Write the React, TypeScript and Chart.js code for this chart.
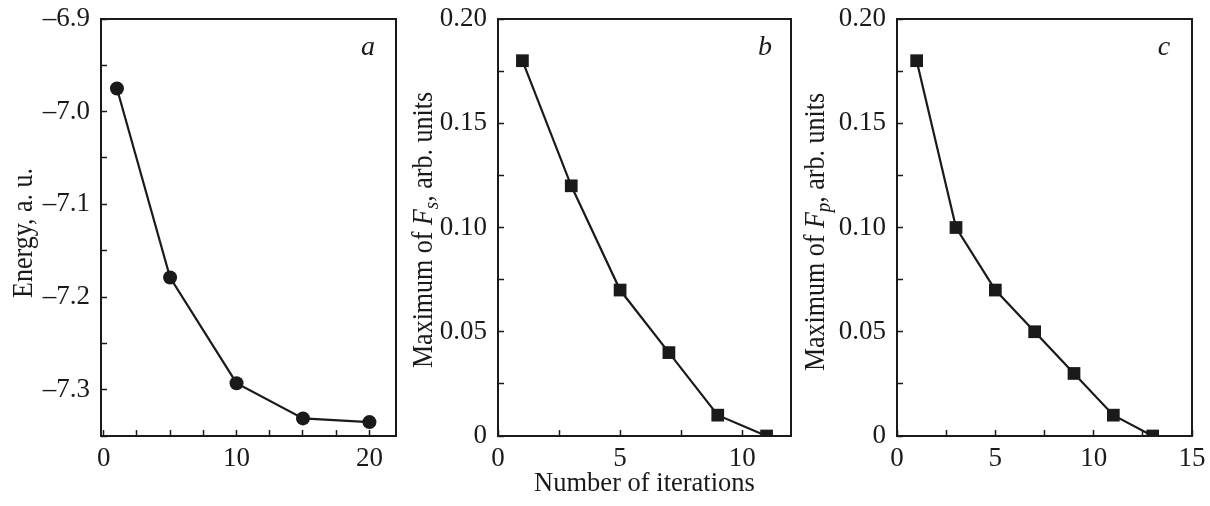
import React, { useEffect, useRef } from "react";
import { Chart, registerables } from "chart.js";

Chart.register(...registerables);

// ---------- data ----------
const iterA = [1, 5, 10, 15, 20];
const energyA = [-6.975, -7.179, -7.293, -7.331, -7.335];

const iterB = [1, 3, 5, 7, 9, 11];
const fsMaxB = [0.18, 0.12, 0.07, 0.04, 0.01, 0.0];

const iterC = [1, 3, 5, 7, 9, 11, 13];
const fpMaxC = [0.18, 0.1, 0.07, 0.05, 0.03, 0.01, 0.0];

const xTickLabelsA = [0, 10, 20];
const xTickLabelsB = [0, 5, 10];
const xTickLabelsC = [0, 5, 10, 15];
const yTickLabelsA = [-6.9, -7.0, -7.1, -7.2, -7.3];
const yTickLabelsF = [0, 0.05, 0.1, 0.15, 0.2];

const FONT = "'Liberation Serif', 'Times New Roman', serif";
const INK = "#1a1a1a";

type Part = { text: string; italic?: boolean; sub?: boolean };

const decorPlugin = {
  id: "panelDecor",
  afterDraw(chart: any, _args: any, opts: any) {
    const { ctx, chartArea } = chart;
    ctx.save();
    // box
    ctx.strokeStyle = INK;
    ctx.lineWidth = 2;
    ctx.strokeRect(chartArea.left, chartArea.top, chartArea.right - chartArea.left, chartArea.bottom - chartArea.top);
    // panel letter
    ctx.fillStyle = INK;
    ctx.font = `italic 28px ${FONT}`;
    ctx.textAlign = "center";
    ctx.textBaseline = "alphabetic";
    ctx.fillText(opts.letter, opts.letterX, opts.letterY);
    // y title
    const parts: Part[] = opts.titleParts;
    const fontFor = (p: Part) => `${p.italic ? "italic " : ""}${p.sub ? 19 : 26}px ${FONT}`;
    let total = 0;
    for (const p of parts) {
      ctx.font = fontFor(p);
      total += ctx.measureText(p.text).width;
    }
    ctx.translate(opts.titleX, opts.titleY);
    ctx.rotate(-Math.PI / 2);
    ctx.scale(1, 1.15);
    ctx.textAlign = "left";
    let x = -total / 2;
    for (const p of parts) {
      ctx.font = fontFor(p);
      ctx.fillText(p.text, x, p.sub ? 5 : 0);
      x += ctx.measureText(p.text).width;
    }
    ctx.restore();
  },
};

function near(v: number, list: number[]) {
  return list.some((t) => Math.abs(v - t) < 1e-6);
}

function makeConfig(p: {
  xs: number[];
  ys: number[];
  pointStyle: string;
  radius: number;
  xMin: number;
  xMax: number;
  xLabels: number[];
  yMin: number;
  yMax: number;
  yStep: number;
  yLabels: number[];
  yFmt: (v: number) => string;
  yWidth: number;
  padRight: number;
  xTitle?: string;
  decor: any;
}) {
  const tickFont = { family: FONT, size: 27 };
  return {
    type: "line",
    data: {
      datasets: [
        {
          data: p.xs.map((x, i) => ({ x, y: p.ys[i] })),
          borderColor: INK,
          borderWidth: 2.2,
          backgroundColor: INK,
          pointBackgroundColor: INK,
          pointBorderColor: INK,
          pointBorderWidth: 0,
          pointStyle: p.pointStyle,
          pointRadius: p.radius,
          tension: 0,
          fill: false,
        },
      ],
    },
    options: {
      responsive: false,
      animation: false,
      devicePixelRatio: 1,
      layout: { padding: { top: 19, right: p.padRight, bottom: 0, left: 0 } },
      plugins: {
        legend: { display: false },
        tooltip: { enabled: false },
        panelDecor: p.decor,
      },
      scales: {
        x: {
          type: "linear",
          min: p.xMin,
          max: p.xMax,
          border: { display: false },
          grid: { drawOnChartArea: false, drawTicks: true, tickLength: -6, tickWidth: 1.5, tickColor: INK },
          ticks: {
            stepSize: 2.5,
            autoSkip: false,
            includeBounds: false,
            maxRotation: 0,
            padding: 13,
            color: INK,
            font: tickFont,
            callback: (v: number) => (near(v, p.xLabels) ? String(Math.round(v)) : ""),
          },
          title: p.xTitle
            ? { display: true, text: p.xTitle, color: INK, font: { family: FONT, size: 26.5 }, padding: { top: 0, bottom: 6 } }
            : { display: false },
          afterFit: (s: any) => {
            s.height = 70;
            s.paddingLeft = 0;
            s.paddingRight = 0;
          },
        },
        y: {
          type: "linear",
          min: p.yMin,
          max: p.yMax,
          border: { display: false },
          grid: { drawOnChartArea: false, drawTicks: true, tickLength: -6, tickWidth: 1.5, tickColor: INK },
          ticks: {
            stepSize: p.yStep,
            autoSkip: false,
            includeBounds: false,
            padding: 17,
            color: INK,
            font: tickFont,
            callback: (v: number) => (near(v, p.yLabels) ? p.yFmt(v) : ""),
          },
          afterFit: (s: any) => {
            s.width = p.yWidth;
            s.paddingTop = 0;
            s.paddingBottom = 0;
          },
        },
      },
    },
    plugins: [decorPlugin],
  } as any;
}

function Panel(props: { left: number; width: number; config: any }) {
  const ref = useRef<HTMLCanvasElement | null>(null);
  useEffect(() => {
    if (!ref.current) return;
    const chart = new Chart(ref.current, props.config);
    return () => chart.destroy();
  }, []);
  return (
    <canvas
      ref={ref}
      width={props.width}
      height={506}
      style={{ position: "absolute", left: props.left, top: 0, width: props.width, height: 506, display: "block" }}
    />
  );
}

const fmtA = (v: number) => "\u2013" + Math.abs(v).toFixed(1);
const fmtF = (v: number) => (Math.abs(v) < 1e-9 ? "0" : v.toFixed(2));

export default function App() {
  const cfgA = makeConfig({
    xs: iterA,
    ys: energyA,
    pointStyle: "circle",
    radius: 7,
    xMin: -0.2,
    xMax: 22,
    xLabels: xTickLabelsA,
    yMin: -7.35,
    yMax: -6.9,
    yStep: 0.05,
    yLabels: yTickLabelsA,
    yFmt: fmtA,
    yWidth: 101,
    padRight: 405 - 396,
    decor: {
      letter: "a",
      letterX: 368,
      letterY: 55,
      titleParts: [{ text: "Energy, a. u." }],
      titleX: 32,
      titleY: 233,
    },
  });
  const cfgB = makeConfig({
    xs: iterB,
    ys: fsMaxB,
    pointStyle: "rect",
    radius: 9,
    xMin: 0,
    xMax: 12,
    xLabels: xTickLabelsB,
    yMin: 0,
    yMax: 0.2,
    yStep: 0.025,
    yLabels: yTickLabelsF,
    yFmt: fmtF,
    yWidth: 498 - 405,
    padRight: 800 - 792,
    xTitle: "Number of iterations",
    decor: {
      letter: "b",
      letterX: 765 - 405,
      letterY: 55,
      titleParts: [
        { text: "Maximum of " },
        { text: "F", italic: true },
        { text: "s", italic: true, sub: true },
        { text: ", arb. units" },
      ],
      titleX: 432 - 405,
      titleY: 230,
    },
  });
  const cfgC = makeConfig({
    xs: iterC,
    ys: fpMaxC,
    pointStyle: "rect",
    radius: 9,
    xMin: 0,
    xMax: 15,
    xLabels: xTickLabelsC,
    yMin: 0,
    yMax: 0.2,
    yStep: 0.025,
    yLabels: yTickLabelsF,
    yFmt: fmtF,
    yWidth: 897 - 800,
    padRight: 1210 - 1192,
    decor: {
      letter: "c",
      letterX: 1164 - 800,
      letterY: 55,
      titleParts: [
        { text: "Maximum of " },
        { text: "F", italic: true },
        { text: "p", italic: true, sub: true },
        { text: ", arb. units" },
      ],
      titleX: 824 - 800,
      titleY: 232,
    },
  });
  return (
    <div style={{ position: "absolute", left: 0, top: 0, width: 1210, height: 506, background: "#fff" }}>
      <Panel left={0} width={405} config={cfgA} />
      <Panel left={405} width={395} config={cfgB} />
      <Panel left={800} width={410} config={cfgC} />
    </div>
  );
}
